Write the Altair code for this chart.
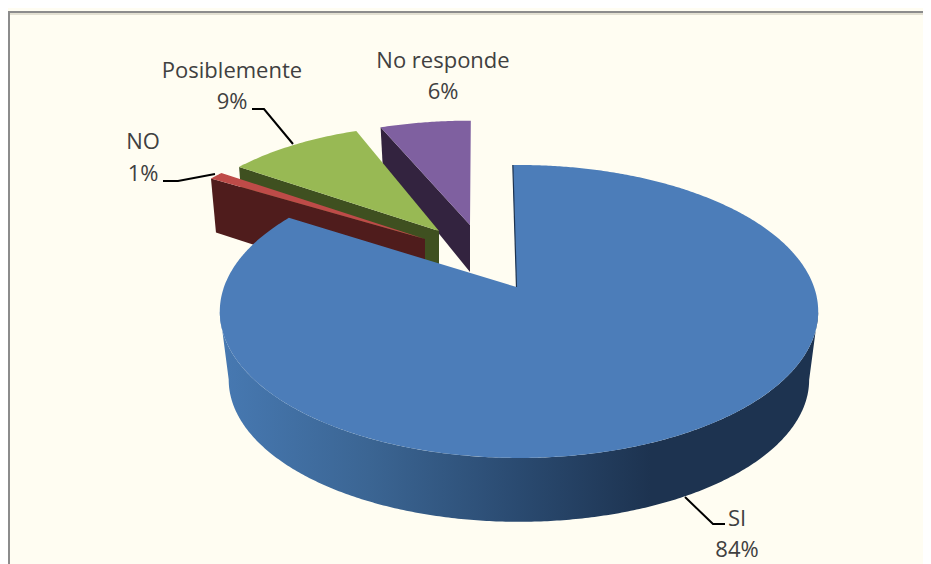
import math
import altair as alt

# --- chart values ---
categories = ["SI", "NO", "Posiblemente", "No responde"]
shares = [84, 1, 9, 6]
top_colors = ["#4C7DB9", "#BE4B48", "#98B954", "#7F60A0"]
wall_colors = ["#1D3350", "#4F1C1C", "#3F5020", "#33233F"]

label_first = ["SI", "NO", "Posiblemente", "No responde"]
label_second = ["84%", "1%", "9%", "6%"]
label_x = [737, 143, 232, 443]
label_y1 = [526, 149, 78, 68]
label_y2 = [557, 181, 109, 99]

# --- perspective pie geometry (page pixels) ---
RX, RY, K = 295.0, 142.4, -0.167
START = -0.5
# apex x, apex y, scale x, scale y, rim x offset
EXPLODE = {
    "SI": (516.5, 287.0, 1.0, 1.0, 2.5),
    "NO": (425.0, 239.0, 0.93, 0.875, 0.0),
    "Posiblemente": (439.0, 231.0, 0.90, 0.87, 0.0),
    "No responde": (470.0, 225.0, 0.93, 0.855, 0.0),
}
# small corrections of the drawn angle range caused by the explosion's perspective
NUDGE = {
    "SI": (-0.9, 0.0),
    "NO": (0.0, 0.0),
    "Posiblemente": (-1.0, 1.0),
    "No responde": (0.0, 0.7),
}
WALLS = {
    "NO": (62, 54, 5),
    "Posiblemente": (47, 40, 3),
    "No responde": (47, 37, 2),
}


def rel(theta):
    t = math.radians(theta)
    u, v = math.sin(t), -math.cos(t)
    d = 1 + K * v
    return RX * u / d, RY * v / d


def rim(name, theta):
    ax, ay, sx, sy, dx = EXPLODE[name]
    x, y = rel(theta)
    return ax + dx + sx * x, ay + sy * y


def lower(p):
    ax, ay = EXPLODE["SI"][:2]
    return ax + (p[0] - ax) * 0.97, ay + (p[1] - ay) * 0.97 + 69


bounds = {}
acc = START
for c, s in zip(categories, shares):
    bounds[c] = (acc + NUDGE[c][0], acc + s * 3.6 + NUDGE[c][1])
    acc += s * 3.6


def poly(points, fill):
    ring = [[round(a, 2), round(b, 2)] for a, b in points]
    ring.append(ring[0])
    feature = {"type": "Feature", "properties": {}, "geometry": {"type": "Polygon", "coordinates": [ring]}}
    return alt.Chart(alt.Data(values=[feature])).mark_geoshape(fill=fill, stroke=None, clip=False)


def stroke_line(points, color, width):
    ring = [[round(a, 2), round(b, 2)] for a, b in points]
    feature = {"type": "Feature", "properties": {}, "geometry": {"type": "LineString", "coordinates": ring}}
    return alt.Chart(alt.Data(values=[feature])).mark_geoshape(
        filled=False, stroke=color, strokeWidth=width, strokeCap="butt")


layers = []

# page frame
layers.append(poly([(8, 11), (931, 11), (931, 13), (8, 13)], "#8C8C8C"))
layers.append(poly([(8, 13), (931, 13), (931, 15), (8, 15)], "#E3E0D2"))
layers.append(poly([(10, 15), (931, 15), (931, 564), (10, 564)], "#FFFDF2"))
layers.append(poly([(8, 11), (10, 11), (10, 564), (8, 564)], "#8C8C8C"))

# exploded slices, back to front
for idx in (3, 2, 1):
    name = categories[idx]
    a0, a1 = bounds[name]
    ax, ay = EXPLODE[name][:2]
    da, do, shift = WALLS[name]
    c = rim(name, a0)
    layers.append(poly([c, (ax, ay), (ax, ay + da), (c[0] + shift, c[1] + do)], wall_colors[idx]))
    arc = [rim(name, a0 + (a1 - a0) * i / 40) for i in range(41)]
    layers.append(poly([(ax, ay)] + arc, top_colors[idx]))

# big slice: outer wall with a horizontal gradient, then its top face
si0, si1 = bounds["SI"]
steps = [si0 + (si1 - si0) * i / 600 for i in range(601)]
xs = [rim("SI", t)[0] for t in steps]
right = steps[xs.index(max(xs))]
left = steps[xs.index(min(xs))]
span = [right + (left - right) * i / 300 for i in range(301)]
upper = [rim("SI", t) for t in span]
low = [lower(p) for p in upper]
gradient = alt.Gradient(
    gradient="linear", x1=0, x2=1, y1=0, y2=0,
    stops=[
        alt.GradientStop(color="#4779B2", offset=0),
        alt.GradientStop(color="#3B6593", offset=0.25),
        alt.GradientStop(color="#2A4A70", offset=0.5),
        alt.GradientStop(color="#1D3350", offset=0.72),
        alt.GradientStop(color="#1D3350", offset=1),
    ],
)
layers.append(poly(upper + low[::-1], gradient))
layers.append(poly([EXPLODE["SI"][:2]] + [rim("SI", t) for t in steps], top_colors[0]))
layers.append(stroke_line([rim("SI", si0), EXPLODE["SI"][:2]], "#1D3350", 1.2))

# leader lines
layers.append(stroke_line([(163, 181), (178, 181), (215, 174)], "#000000", 2))
layers.append(stroke_line([(252, 109), (264, 109), (293, 144)], "#000000", 2))
layers.append(stroke_line([(685, 497), (713, 524), (725, 524)], "#000000", 2))

# labels through pixel-aligned scales
x_scale = alt.Scale(domain=[8, 923], range=[0, 915], nice=False, zero=False)
y_scale = alt.Scale(domain=[8, 564], range=[0, 556], nice=False, zero=False)
rows = []
for first, second, x, y1, y2 in zip(label_first, label_second, label_x, label_y1, label_y2):
    rows.append({"t": first, "x": x, "y": y1})
    rows.append({"t": second, "x": x, "y": y2})
text = alt.Chart(alt.Data(values=rows)).mark_text(
    font="Open Sans", fontSize=22, color="#404040", align="center", baseline="alphabetic", clip=False
).encode(
    x=alt.X("x:Q", scale=x_scale, axis=None),
    y=alt.Y("y:Q", scale=y_scale, axis=None),
    text="t:N",
)
layers.append(text)

chart = alt.layer(*layers).properties(
    width=915, height=556, padding=0, autosize=alt.AutoSizeParams(type="none"),
    projection=alt.Projection(type="identity", scale=1, translate=[-8, -8]),
    background="#FFFDF2",
).configure_view(stroke=None)

chart.save("out.html", embed_options={"renderer": "svg", "actions": False})
